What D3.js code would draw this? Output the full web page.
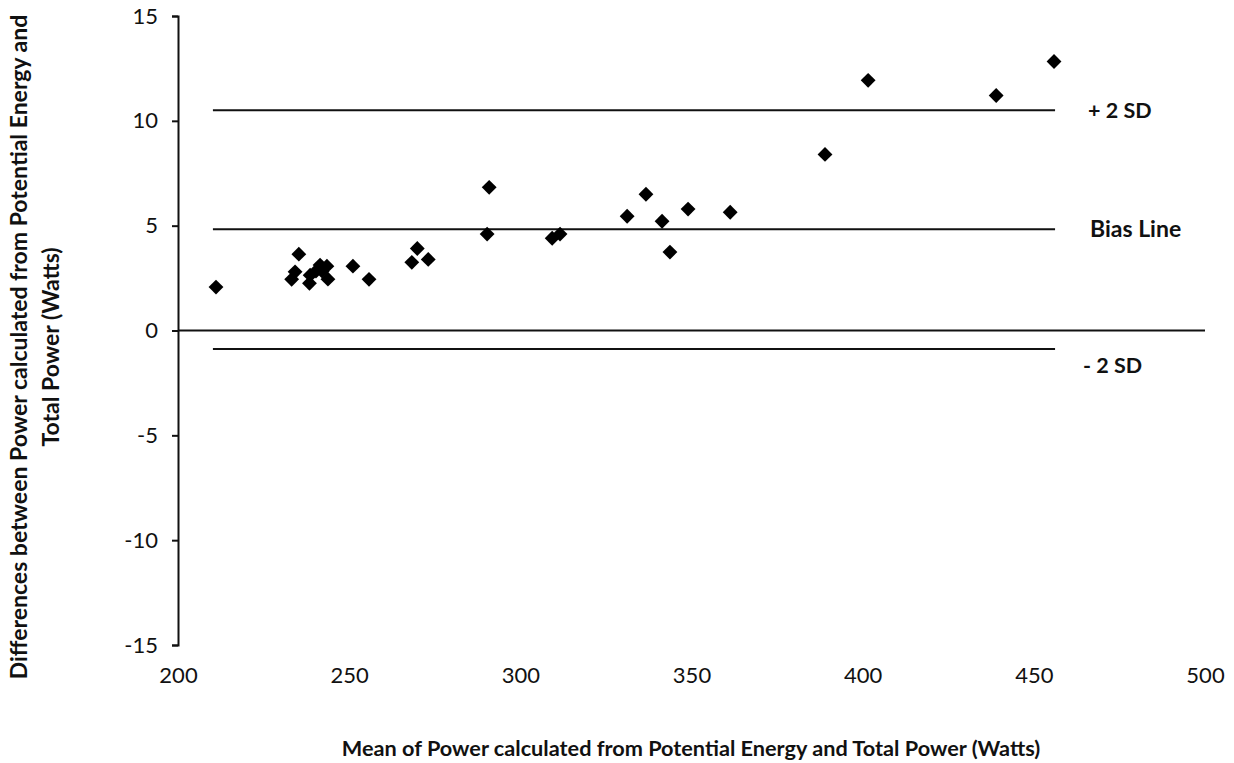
<!DOCTYPE html>
<html>
<head>
<meta charset="utf-8">
<script src="https://cdn.jsdelivr.net/npm/d3@7"></script>
<style>
  body { margin: 0; background: #fff; }
  svg text { font-family: Lato, "Open Sans", sans-serif; fill: #111; }
</style>
</head>
<body>
<svg id="chart" width="1234" height="763"></svg>
<script>
// mean power (x) and difference (y)
var meanPower = [211.1, 235.3, 234.2, 233.2, 238.6, 238.4, 241.5, 243.5, 242.1, 243.8,
                 240.3, 251.1, 255.8, 268.3, 269.9, 273.1, 290.3, 290.9, 309.3, 311.6,
                 331.2, 336.7, 341.4, 343.7, 349.0, 361.3, 389.0, 401.6, 439.0, 455.9];
var powerDiff = [2.07, 3.64, 2.80, 2.44, 2.64, 2.25, 3.12, 3.07, 2.83, 2.45,
                 2.83, 3.07, 2.44, 3.25, 3.91, 3.39, 4.60, 6.83, 4.40, 4.60,
                 5.45, 6.50, 5.21, 3.74, 5.79, 5.64, 8.40, 11.93, 11.21, 12.83];

// reference lines
var refNames = ["+ 2 SD", "Bias Line", "- 2 SD"];
var refValues = [10.5, 4.83, -0.88];
var refStart = 210.2, refEnd = 456.2;

var xTicks = [200, 250, 300, 350, 400, 450, 500];
var yTicks = [-15, -10, -5, 0, 5, 10, 15];

var svg = d3.select("#chart");

var x = d3.scaleLinear().domain([200, 500]).range([178, 1205]);
var y = d3.scaleLinear().domain([-15, 15]).range([645, 16]);

// y axis with outward ticks
var yAxis = d3.axisLeft(y).tickValues(yTicks).tickSize(6).tickSizeOuter(6).tickPadding(14)
  .tickFormat(function(d) { return String(d); });
var gy = svg.append("g").attr("transform", "translate(" + x(200) + ",0)").call(yAxis);
gy.select(".domain").attr("stroke", "#111").attr("stroke-width", 2);
gy.selectAll(".tick line").attr("stroke", "#111").attr("stroke-width", 2);
gy.selectAll(".tick text").attr("font-size", 22).attr("fill", "#111");

// x labels sit at the bottom, no ticks or line there
var xAxis = d3.axisBottom(x).tickValues(xTicks).tickSize(0).tickPadding(22);
var gx = svg.append("g").attr("transform", "translate(0," + y(-15) + ")").call(xAxis);
gx.select(".domain").remove();
gx.selectAll(".tick text").attr("font-size", 22).attr("fill", "#111");

// zero line acts as the horizontal axis
svg.append("line")
  .attr("x1", x(200)).attr("x2", x(500))
  .attr("y1", y(0)).attr("y2", y(0))
  .attr("stroke", "#111").attr("stroke-width", 2);

// SD and bias lines
svg.selectAll(".ref")
  .data(refValues)
  .enter().append("line")
  .attr("class", "ref")
  .attr("x1", x(refStart)).attr("x2", x(refEnd))
  .attr("y1", function(d) { return y(d); })
  .attr("y2", function(d) { return y(d); })
  .attr("stroke", "#111").attr("stroke-width", 2);

var labelDx = [1088, 1090, 1083];
var labelDy = [0, 0, 17];
svg.selectAll(".refLabel")
  .data(refNames)
  .enter().append("text")
  .attr("class", "refLabel")
  .attr("x", function(d, i) { return labelDx[i]; })
  .attr("y", function(d, i) { return y(refValues[i]) + labelDy[i]; })
  .attr("dy", "0.35em")
  .attr("font-size", function(d, i) { return i === 1 ? 23 : 21.5; })
  .attr("font-weight", "bold")
  .text(function(d) { return d; });

// diamonds
var diamond = d3.symbol().type(d3.symbolSquare).size(110);
svg.selectAll(".pt")
  .data(meanPower)
  .enter().append("path")
  .attr("class", "pt")
  .attr("d", diamond)
  .attr("transform", function(d, i) {
    return "translate(" + x(d) + "," + y(powerDiff[i]) + ") rotate(45)";
  })
  .attr("fill", "#000");

// axis titles
svg.append("text")
  .attr("x", 691).attr("y", 748)
  .attr("dy", "0.35em")
  .attr("text-anchor", "middle")
  .attr("font-size", 21.7).attr("font-weight", "bold")
  .text("Mean of Power calculated from Potential Energy and Total Power (Watts)");

var yTitle = svg.append("text")
  .attr("transform", "translate(19,347) rotate(-90)")
  .attr("text-anchor", "middle")
  .attr("font-size", 23).attr("font-weight", "bold");
yTitle.append("tspan").attr("x", 0).attr("dy", "0.35em")
  .text("Differences between Power calculated from Potential Energy and");
yTitle.append("tspan").attr("x", 0).attr("dy", "1.4em")
  .text("Total Power (Watts)");
</script>
</body>
</html>
